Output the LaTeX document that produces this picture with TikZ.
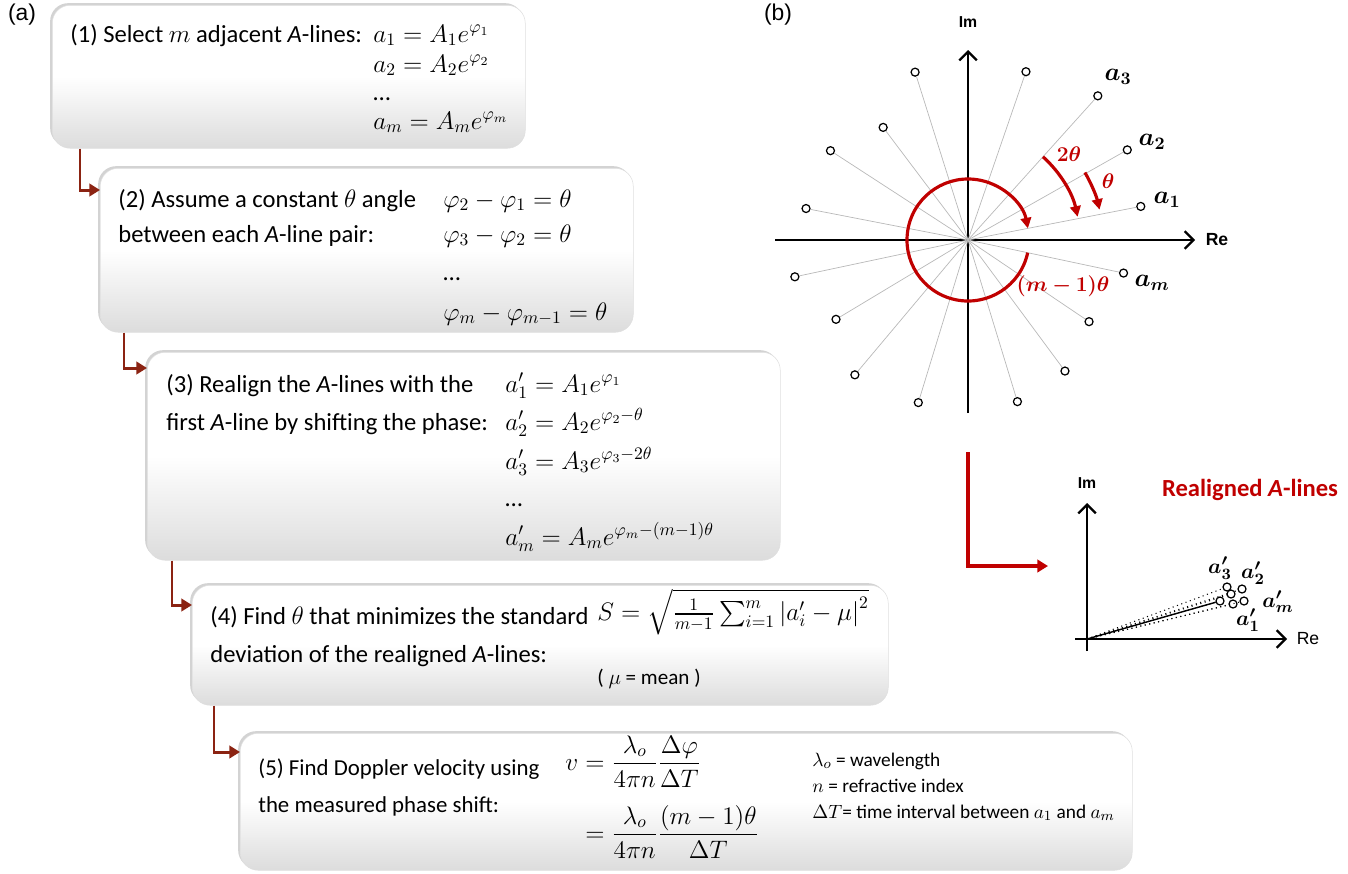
\documentclass[tikz,border=0pt]{standalone}
\usepackage{amsmath}
\usepackage{bm}
\usepackage{fontspec}
\setmainfont{Carlito}
\newfontfamily\arialfont{Liberation Sans}
\definecolor{flowRed}{HTML}{8B2312}
\definecolor{plotRed}{HTML}{C00000}
\definecolor{boxGray}{HTML}{DCDCDC}
\definecolor{spokeGray}{HTML}{B8B8B8}
\usetikzlibrary{calc, positioning, arrows.meta, shadows}
\newlength\px
\setlength\px{0.02cm}
\tikzset{
  stepbox/.style={anchor=north west, rounded corners=18\px, inner sep=0pt,
    top color=white, bottom color=boxGray, middle color=white,
    draw=gray!25, line width=0.3pt,
    drop shadow={shadow xshift=-1.2pt, shadow yshift=1.2pt, opacity=0.35, fill=gray}},
  flowline/.style={draw=flowRed, line width=1.7pt, -{Triangle[length=6pt, width=7pt]}},
  txt/.style={anchor=base west, inner sep=0pt, font=\fontsize{14}{17}\selectfont},
  note/.style={anchor=base west, inner sep=0pt, font=\fontsize{11}{13}\selectfont},
  panel/.style={inner sep=0pt, font=\arialfont\fontsize{13}{15}\selectfont},
  axis/.style={line width=1.3pt, -{Straight Barb[length=5pt, width=10pt, line width=1.3pt]}},
  axlabel/.style={inner sep=0pt, font=\arialfont\bfseries\fontsize{9}{11}\selectfont},
  spoke/.style={draw=spokeGray, line width=0.4pt},
  dot/.style={circle, draw=black, fill=white, line width=0.7pt, minimum size=8\px, inner sep=0pt},
  redarc/.style={draw=plotRed, line width=1.8pt, -{Triangle[length=6pt, width=6pt]}},
  ptlabel/.style={inner sep=0pt, font=\fontsize{14}{16}\selectfont},
  redlabel/.style={inner sep=0pt, text=plotRed, font=\fontsize{12}{14}\selectfont}
}
\begin{document}
\begin{tikzpicture}[x=0.02cm, y=-0.02cm]
\useasboundingbox (0,0) rectangle (1348,873);

\node[panel] (pa) at (22,15) {(a)};
\node[panel] (pb) at (778,15) {(b)};

\node[stepbox, minimum width=473\px, minimum height=143\px] (box1) at (52,5) {};
\node[stepbox, minimum width=533\px, minimum height=164\px] (box2) at (100,168) {};
\node[stepbox, minimum width=633\px, minimum height=208\px] (box3) at (147,352) {};
\node[stepbox, minimum width=696\px, minimum height=120\px] (box4) at (192,585) {};
\node[stepbox, minimum width=892\px, minimum height=137\px] (box5) at (240,733) {};

\draw[flowline] ([xshift=28\px]box1.south west) |- ([yshift=-22\px]box2.north west);
\draw[flowline] ([xshift=24\px]box2.south west) |- ([yshift=-16\px]box3.north west);
\draw[flowline] ([xshift=25\px]box3.south west) |- ([yshift=-20\px]box4.north west);
\draw[flowline] ([xshift=22\px]box4.south west) |- ([yshift=-19\px]box5.north west);

\node[txt] (t1) at (70,42) {(1) Select $m$ adjacent \textit{A}-lines:};
\node[txt] (e11) at (373,42) {$a_1=A_1e^{\varphi_1}$};
\node[txt] (e12) at (373,72) {$a_2=A_2e^{\varphi_2}$};
\node[txt] (e13) at (373,100) {\dots};
\node[txt] (e14) at (373,129) {$a_m=A_me^{\varphi_m}$};

\node[txt] (t21) at (118,207) {(2) Assume a constant $\theta$ angle};
\node[txt] (t22) at (118,242) {between each \textit{A}-line pair:};
\node[txt] (e21) at (443,207) {$\varphi_2-\varphi_1=\theta$};
\node[txt] (e22) at (443,242) {$\varphi_3-\varphi_2=\theta$};
\node[txt] (e23) at (443,280) {\dots};
\node[txt] (e24) at (443,320) {$\varphi_m-\varphi_{m-1}=\theta$};

\node[txt] (t31) at (166,392) {(3) Realign the \textit{A}-lines with the};
\node[txt] (t32) at (166,430) {first \textit{A}-line by shifting the phase:};
\node[txt] (e31) at (505,392) {$a_1'=A_1e^{\varphi_1}$};
\node[txt] (e32) at (505,430) {$a_2'=A_2e^{\varphi_2-\theta}$};
\node[txt] (e33) at (505,469) {$a_3'=A_3e^{\varphi_3-2\theta}$};
\node[txt] (e34) at (505,506) {\dots};
\node[txt] (e35) at (505,545) {$a_m'=A_me^{\varphi_m-(m-1)\theta}$};

\node[txt] (t41) at (210,624) {(4) Find $\theta$ that minimizes the standard};
\node[txt] (t42) at (210,662) {deviation of the realigned \textit{A}-lines:};
\node[txt, anchor=west] (e41) at (597,612) {$S=\sqrt{\tfrac{1}{m-1}\textstyle\sum_{i=1}^{m}\left|a_i'-\mu\right|^2}$};
\node[note, font=\fontsize{12}{14}\selectfont] (e42) at (597,684) {( $\mu$ = mean )};

\node[txt, font=\fontsize{13}{16}\selectfont] (t51) at (258,775) {(5) Find Doppler velocity using};
\node[txt, font=\fontsize{13}{16}\selectfont] (t52) at (258,812) {the measured phase shift:};
\node[txt, anchor=west] (e51) at (565,797) {$\begin{aligned} v&=\frac{\lambda_o}{4\pi n}\frac{\Delta\varphi}{\Delta T}\\[6pt] &=\frac{\lambda_o}{4\pi n}\frac{(m-1)\theta}{\Delta T}\end{aligned}$};
\node[note] (n1) at (812,766) {$\lambda_o$ = wavelength};
\node[note] (n2) at (812,792) {$n$ = refractive index};
\node[note] (n3) at (812,818) {$\Delta T$= time interval between $a_1$ and $a_m$};

\coordinate (o) at (968,240);
\draw[axis] (775,240) -- (1195,240);
\draw[axis] (968,413) -- (968,50);
\node[axlabel] (im) at (968,22) {Im};
\node[axlabel, font=\arialfont\bfseries\fontsize{10}{12}\selectfont] (re) at (1217,240) {Re};
\begin{scope}[shift={(o)}, yscale=-1]
  \foreach \ang/\rad [count=\i] in {11/176, 29.5/183, 48/194, 71/178, 107.5/176, 127/141, 147/164, 169/165,
      192/177, 211/154, 230/176, 253/170, 287/169, 306.5/163, 326/146, 348/159} {
    \node[dot] (p\i) at (\ang:\rad) {};
    \draw[spoke] (0,0) -- (p\i);
  }
  \draw[redarc] (-12:61) arc[start angle=-12, end angle=-349, radius=61];
  \draw[redarc] (48:112) arc[start angle=48, end angle=12, radius=112];
  \draw[redarc] (30:135) arc[start angle=30, end angle=13, radius=135];
\end{scope}
\node[ptlabel] (la1) at (1167,200) {$\bm{a_1}$};
\node[ptlabel] (la2) at (1152,142) {$\bm{a_2}$};
\node[ptlabel] (la3) at (1118,77) {$\bm{a_3}$};
\node[ptlabel] (lam) at (1152,283) {$\bm{a_m}$};
\node[redlabel] (l2t) at (1069,154) {$\bm{2\theta}$};
\node[redlabel] (lt) at (1108,181) {$\bm{\theta}$};
\node[redlabel] (lmt) at (1063,286) {$\bm{(m-1)\theta}$};

\coordinate (bendtop) at (968,452);
\coordinate (bendend) at (1048,566);
\draw[draw=plotRed, line width=2.3pt, -{Triangle[length=6pt, width=7pt]}] (bendtop) |- (bendend);
\node[inner sep=0pt, text=plotRed, font=\bfseries\fontsize{14}{16}\selectfont] (rtitle) at (1250,490) {Realigned \textit{A}-lines};

\coordinate (o2) at (1087,639);
\draw[axis, line width=1.1pt] (1075,639) -- (1287,639);
\draw[axis, line width=1.1pt] (1087,651) -- (1087,503);
\node[axlabel] (im2) at (1087,483) {Im};
\node[axlabel, font=\arialfont\fontsize{10}{12}\selectfont] (re2) at (1308,639) {Re};
\foreach \x/\y [count=\i] in {1227/587, 1242/589, 1231/594, 1220/601, 1233/604, 1244/601} {
  \node[dot] (q\i) at (\x,\y) {};
  \draw[dotted, line width=0.6pt] (o2) -- (q\i);
}
\draw[line width=0.8pt] (o2) -- (q4);
\node[ptlabel, font=\fontsize{13}{15}\selectfont] (lb3) at (1220,568) {$\bm{a_3'}$};
\node[ptlabel, font=\fontsize{13}{15}\selectfont] (lb2) at (1253,573) {$\bm{a_2'}$};
\node[ptlabel, font=\fontsize{13}{15}\selectfont] (lbm) at (1278,602) {$\bm{a_m'}$};
\node[ptlabel, font=\fontsize{13}{15}\selectfont] (lb1) at (1248,620) {$\bm{a_1'}$};
\end{tikzpicture}
\end{document}
